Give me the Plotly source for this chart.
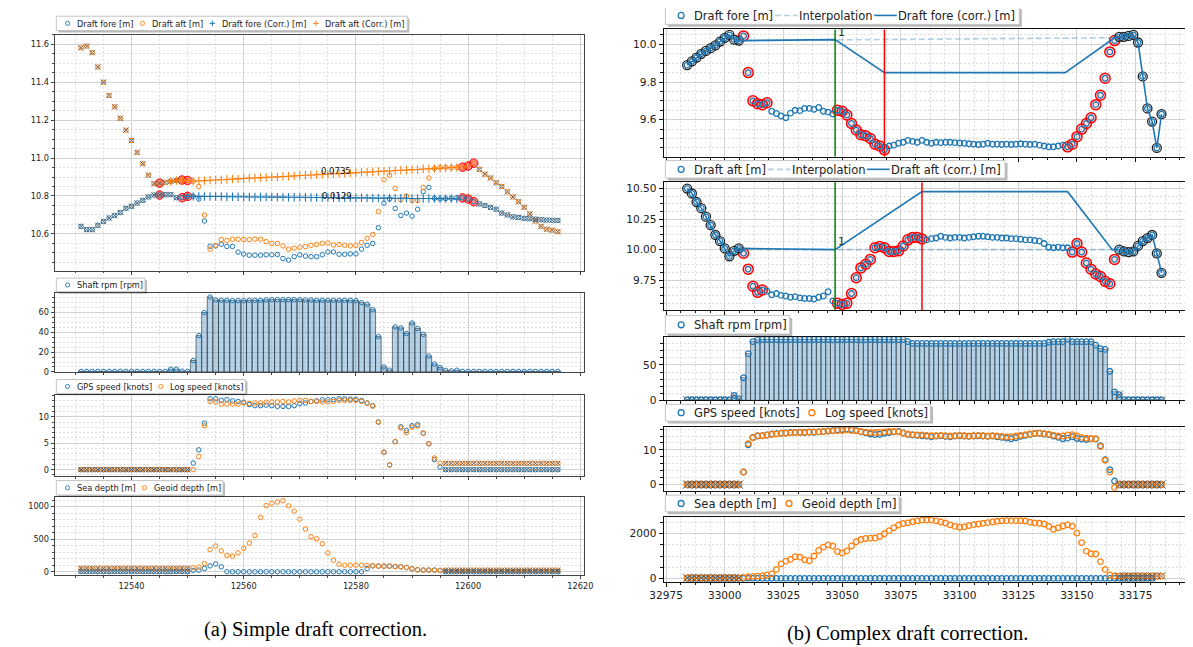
import plotly.graph_objects as go

W, H = 1193, 647
BLUE = '#1f77b4'
ORANGE = '#ff7f0e'

# ================= (a) Simple draft correction =================
L_X = list(range(12531, 12617))
L_FORE = [10.64, 10.623, 10.623, 10.645, 10.666, 10.684, 10.697, 10.713, 10.735, 10.746,
          10.763, 10.777, 10.795, 10.805, 10.805, 10.807, 10.807, 10.791, 10.791, 10.798,
          10.798, 10.784, 10.668, 10.535, 10.537, 10.546, 10.534, 10.534, 10.504, 10.494,
          10.488, 10.488, 10.488, 10.49, 10.49, 10.492, 10.47, 10.462, 10.48, 10.49,
          10.483, 10.48, 10.48, 10.49, 10.505, 10.505, 10.493, 10.493, 10.495, 10.495,
          10.52, 10.54, 10.55, 10.633, 10.762, 10.784, 10.734, 10.697, 10.71, 10.694,
          10.73, 10.823, 10.845, 10.788, 10.784, 10.786, 10.788, 10.79, 10.79, 10.784,
          10.77, 10.758, 10.75, 10.74, 10.73, 10.71, 10.70, 10.69, 10.687, 10.682,
          10.68, 10.678, 10.675, 10.673, 10.672, 10.671]
L_AFT = [11.581, 11.59, 11.556, 11.48, 11.40, 11.33, 11.27, 11.21, 11.147, 11.093,
         11.03, 10.97, 10.91, 10.865, 10.868, 10.872, 10.877, 10.882, 10.884, 10.882,
         10.878, 10.85, 10.70, 10.52, 10.54, 10.57, 10.565, 10.572, 10.572, 10.57,
         10.57, 10.573, 10.572, 10.56, 10.55, 10.55, 10.537, 10.52, 10.525, 10.53,
         10.533, 10.54, 10.544, 10.55, 10.552, 10.542, 10.544, 10.54, 10.537, 10.54,
         10.555, 10.577, 10.597, 10.718, 10.886, 10.91, 10.84, 10.78, 10.80, 10.776,
         10.776, 10.845, 10.895, 10.945, 10.95, 10.952, 10.95, 10.95, 10.952, 10.958,
         10.973, 10.94, 10.915, 10.895, 10.87, 10.85, 10.822, 10.795, 10.77, 10.74,
         10.706, 10.668, 10.64, 10.625, 10.62, 10.612]
# corrected values inside the correction window (samples 20..67)
L_CORR_FIRST, L_CORR_LAST = 20, 67
L_FORE_CORR_MID = [10.798, 10.798, 10.797, 10.797, 10.797, 10.797, 10.796, 10.796, 10.796, 10.796,
                   10.795, 10.795, 10.795, 10.795, 10.794, 10.794, 10.794, 10.793, 10.793, 10.793,
                   10.793, 10.792, 10.792, 10.792, 10.792, 10.791, 10.791, 10.791, 10.790, 10.790,
                   10.790, 10.790, 10.789, 10.789, 10.789, 10.789, 10.788, 10.788, 10.788, 10.787,
                   10.787, 10.787, 10.787, 10.786, 10.786, 10.786, 10.786, 10.785]
L_AFT_CORR_MID = [10.878, 10.880, 10.881, 10.883, 10.884, 10.886, 10.887, 10.889, 10.890, 10.892,
                  10.894, 10.895, 10.897, 10.898, 10.900, 10.901, 10.903, 10.904, 10.906, 10.908,
                  10.909, 10.911, 10.912, 10.914, 10.915, 10.917, 10.918, 10.920, 10.922, 10.923,
                  10.925, 10.926, 10.928, 10.929, 10.931, 10.932, 10.934, 10.936, 10.937, 10.939,
                  10.940, 10.942, 10.943, 10.945, 10.946, 10.948, 10.950, 10.951]
L_PLUS_FORE = list(range(19, 68))
L_PLUS_AFT = list(range(16, 68))
L_RED = [14, 18, 19, 68, 69, 70]
L_USED_TOP = list(range(0, 18)) + list(range(71, 86))
L_USED_LOW = list(range(0, 20)) + list(range(65, 86))
L_DIFF_TEXT = ['0.0735', '0.0129']
L_DIFF_POS = [(12576.4, 10.933), (12576.7, 10.80)]

L_RPM = [0.5, 0.5, 0.5, 0.5, 0.5, 0.5, 0.5, 0.5, 0.5, 0.5,
         0.5, 0.5, 0.5, 0.5, 0.5, 0.5, 2.7, 2.7, 0.8, 0.5,
         11.5, 36.7, 60, 75.8, 72.8, 72.5, 72.5, 72.1, 72.1, 72.1,
         72.5, 72.5, 72.5, 72.8, 73.1, 73.1, 73.1, 73.1, 73.1, 73.1,
         72.8, 72.8, 72.5, 72.5, 72.5, 72.5, 72.5, 72.5, 72.5, 72.1,
         70, 68.5, 63, 35.7, 5, 1.7, 45.5, 44.5, 38.8, 49.5,
         43.8, 38, 16, 8, 4.4, 1.5, 1, 1.7, 0.5, 0.5,
         0.5, 0.5, 0.5, 0.5, 0.5, 0.5, 0.5, 0.5, 0.5, 0.5,
         0.5, 0.5, 0.5, 0.5, 0.5, 0.5]
L_GPS = [0, 0, 0, 0, 0, 0, 0, 0, 0, 0,
         0, 0, 0, 0, 0, 0, 0, 0, 0, 0,
         1.25, 3.75, 8.8, 13.4, 13.4, 13.1, 13.25, 13.0, 12.9, 12.75,
         12.3, 12.1, 12.1, 12.2, 12.1, 11.95, 11.95, 11.95, 12.1, 12.5,
         12.6, 12.9, 13.0, 13.2, 13.2, 13.25, 13.4, 13.4, 13.35, 13.3,
         13.05, 12.6, 12.1, 9.0, 3.3, 0.9, 5.3, 8.1, 7.4, 8.3,
         8.5, 6.9, 4.9, 1.9, 0.5, 0, 0, 0, 0, 0,
         0, 0, 0, 0, 0, 0, 0, 0, 0, 0,
         0, 0, 0, 0, 0, 0]
L_LOG = [0, 0, 0, 0, 0, 0, 0, 0, 0, 0,
         0, 0, 0, 0, 0, 0, 0, 0, 0, 0,
         0, 2.5, 8.3, 12.9, 12.8, 12.4, 12.4, 12.4, 12.4, 12.6,
         12.5, 12.6, 12.6, 12.75, 12.8, 12.8, 12.9, 12.8, 13.0, 13.1,
         13.1, 12.9, 12.9, 12.8, 12.8, 12.9, 13.1, 13.1, 13.1, 13.1,
         12.9, 12.6, 12.0, 9.0, 3.3, 0.9, 5.3, 7.9, 7.0, 8.0,
         8.25, 6.9, 4.9, 2.2, 1.25, 1.2, 1.2, 1.2, 1.2, 1.2,
         1.2, 1.2, 1.2, 1.2, 1.2, 1.2, 1.2, 1.2, 1.2, 1.2,
         1.2, 1.2, 1.2, 1.2, 1.2, 1.2]
L_SEA = [5, 5, 5, 5, 5, 5, 5, 5, 5, 5,
         5, 5, 5, 5, 5, 5, 5, 5, 5, 5,
         20, 25, 50, 90, 120, 75, 0, 0, 0, 0,
         0, 0, 0, 0, 0, 0, 0, 0, 0, 0,
         0, 0, 0, 0, 0, 0, 0, 0, 0, 0,
         0, 50, 91, 86, 86, 86, 80, 76, 65, 45,
         30, 25, 25, 25, 20, 0, 0, 0, 0, 0,
         0, 0, 0, 0, 0, 0, 0, 0, 0, 0,
         0, 0, 0, 0, 0, 0]
L_GEOID = [55, 55, 55, 55, 55, 55, 55, 55, 55, 55,
           55, 55, 55, 55, 55, 55, 55, 55, 55, 55,
           60, 70, 125, 340, 395, 320, 250, 240, 290, 360,
           440, 555, 833, 1015, 1050, 1070, 1090, 1010, 930, 808,
           656, 540, 505, 430, 288, 177, 116, 100, 100, 100,
           100, 96, 91, 86, 86, 86, 80, 76, 65, 45,
           30, 25, 25, 25, 20, 25, 25, 25, 25, 25,
           25, 25, 25, 25, 25, 25, 25, 25, 25, 25,
           25, 25, 25, 25, 25, 25]

# ================= (b) Complex draft correction =================
R_X = list(range(32984, 33187, 2))
R_FORE = [9.89, 9.91, 9.93, 9.95, 9.965, 9.98, 9.995, 10.015, 10.035, 10.05,
          10.025, 10.02, 10.045, 9.85, 9.70, 9.685, 9.68, 9.69, 9.645, 9.633,
          9.62, 9.61, 9.635, 9.65, 9.648, 9.66, 9.66, 9.655, 9.665, 9.645,
          9.64, 9.63, 9.65, 9.645, 9.625, 9.58, 9.545, 9.52, 9.515, 9.50,
          9.47, 9.46, 9.44, 9.46, 9.465, 9.475, 9.48, 9.49, 9.485, 9.48,
          9.49, 9.48, 9.475, 9.48, 9.478, 9.48, 9.48, 9.478, 9.476, 9.475,
          9.472, 9.47, 9.468, 9.47, 9.475, 9.47, 9.47, 9.468, 9.47, 9.468,
          9.47, 9.472, 9.47, 9.468, 9.47, 9.465, 9.46, 9.456, 9.456, 9.46,
          9.465, 9.456, 9.47, 9.51, 9.55, 9.58, 9.61, 9.68, 9.73, 9.82,
          9.96, 10.02, 10.04, 10.04, 10.045, 10.05, 10.01, 9.83, 9.66, 9.59,
          9.45, 9.63]
R_AFT = [10.50, 10.46, 10.39, 10.34, 10.27, 10.20, 10.12, 10.07, 10.01, 9.945,
         9.99, 10.01, 9.97, 9.84, 9.70, 9.65, 9.67, 9.66, 9.63, 9.64,
         9.625, 9.62, 9.61, 9.615, 9.605, 9.60, 9.60, 9.595, 9.61, 9.62,
         9.655, 9.58, 9.56, 9.55, 9.56, 9.64, 9.77, 9.85, 9.88, 9.92,
         10.015, 10.025, 10.015, 9.985, 9.985, 9.99, 10.03, 10.08, 10.10, 10.10,
         10.087, 10.08, 10.09, 10.095, 10.11, 10.10, 10.095, 10.10, 10.10, 10.095,
         10.10, 10.105, 10.11, 10.11, 10.105, 10.10, 10.10, 10.095, 10.095, 10.09,
         10.09, 10.085, 10.08, 10.08, 10.075, 10.07, 10.05, 10.02, 10.015, 10.02,
         10.015, 10.015, 9.98, 10.05, 9.98, 9.89, 9.84, 9.80, 9.78, 9.74,
         9.72, 9.92, 10.0, 9.985, 9.98, 9.985, 10.03, 10.07, 10.095, 10.12,
         9.97, 9.81]
R_USED_END_A, R_USED_START_B = 33006, 33168
R_RED_FORE = list(range(12, 18)) + list(range(32, 43)) + list(range(81, 92))
R_RED_AFT = list(range(12, 17)) + list(range(32, 51)) + list(range(82, 92))
R_FORE_KNOT_X = [33047, 33068, 33145, 33166]
R_FORE_KNOT_Y = [10.025, 9.85, 9.85, 10.035]
R_AFT_KNOT_X = [33047, 33084, 33146, 33165]
R_AFT_KNOT_Y = [10.0, 10.475, 10.475, 10.0]
R_FORE_INTERP_X = [33006, 33166]
R_FORE_INTERP_Y = [10.02, 10.035]
R_AFT_INTERP_X = [33006, 33166]
R_AFT_INTERP_Y = [10.0, 10.0]
R_GREEN_X = 33047
R_RED_X_FORE = 33068
R_RED_X_AFT = 33084
R_LABEL_POS = [(33047.4, 10.061), (33047.4, 10.068)]

R_RPM = [0.5, 0.5, 0.5, 0.5, 0.5, 0.5, 0.5, 0.5, 0.5, 0.5,
         7, 2, 32, 66, 83, 85.5, 86, 86, 86, 86,
         86, 86, 86, 86, 86, 86, 86, 86, 86, 86,
         86, 86, 86, 86, 86, 86, 86, 86, 86, 86,
         86, 86, 86, 86, 86, 86, 86, 83, 80.5, 80.5,
         80.5, 80.5, 80.5, 80.5, 80.5, 80.5, 80.5, 80.5, 80.5, 80.5,
         80.5, 80.5, 80.5, 80.5, 80.5, 80.5, 80.5, 80.5, 80.5, 80.5,
         80.5, 80.5, 80.5, 80.5, 80.5, 80.5, 80.5, 82, 83, 83,
         83, 86.5, 83, 83, 83, 83, 83, 78, 73, 72,
         41, 12, 8, 0.5, 0.5, 0.5, 0.5, 0.5, 0.5, 0.5,
         0.5, 0.5]
R_GPS = [0, 0, 0, 0, 0, 0, 0, 0, 0, 0, 0, 0,
         3.6, 11.5, 13.6, 14.0, 14.1, 14.3, 14.6, 14.7, 14.8, 14.9,
         15.0, 15.0, 15.1, 15.0, 15.2, 15.1, 15.2, 15.3, 15.5, 15.6,
         15.8, 15.9, 16.0, 15.9, 15.6, 15.2, 14.9, 14.6, 14.4, 14.5,
         14.8, 15.0, 15.2, 15.3, 14.9, 14.5, 14.3, 14.2, 14.1, 14.0,
         13.8, 14.0, 14.1, 13.9, 13.8, 14.0, 14.1, 14.0, 13.9, 14.0,
         14.1, 14.0, 13.9, 14.0, 13.8, 13.6, 13.4, 13.2, 13.5, 13.9,
         14.2, 14.5, 14.7, 14.8, 14.6, 14.4, 14.0, 13.6, 13.2, 13.4,
         13.8, 13.3, 13.1, 13.0, 13.2, 13.1, 11.2, 7.2, 4.3, 1.0,
         0, 0, 0, 0, 0, 0, 0, 0, 0, 0]
R_LOG = [0, 0, 0, 0, 0, 0, 0, 0, 0, 0, 0, 0,
         3.6, 11.8, 13.5, 14.1, 14.1, 14.3, 14.5, 14.6, 14.8, 14.8,
         14.9, 15.0, 15.0, 15.1, 15.1, 15.2, 15.2, 15.3, 15.4, 15.5,
         15.6, 15.6, 15.7, 15.6, 15.5, 15.3, 15.1, 15.0, 15.0, 15.1,
         15.2, 15.3, 15.3, 15.2, 14.8, 14.5, 14.4, 14.3, 14.3, 14.2,
         14.1, 14.1, 14.2, 14.1, 14.0, 14.1, 14.2, 14.1, 14.0, 14.1,
         14.2, 14.1, 14.0, 14.1, 14.0, 13.9, 13.8, 13.8, 14.0, 14.2,
         14.4, 14.6, 14.8, 14.8, 14.7, 14.5, 14.2, 14.0, 14.0, 14.3,
         14.4, 14.0, 13.6, 13.4, 13.2, 13.2, 11.0, 7.0, 3.6, -0.9,
         0, 0, 0, 0, 0, 0, 0, 0, 0, 0]
R_SEA = [0, 0, 0, 0, 0, 0, 0, 0, 0, 0, 0, 0,
         0, 0, 0, 0, 0, 0, 0, 0, 0, 0, 0, 0, 0, 0, 0, 0, 0, 0,
         0, 0, 0, 0, 0, 0, 0, 0, 0, 0, 0, 0, 0, 0, 0, 0, 0, 0, 0, 0,
         0, 0, 0, 0, 0, 0, 0, 0, 0, 0, 0, 0, 0, 0, 0, 0, 0, 0, 0, 0,
         0, 0, 0, 0, 0, 0, 0, 0, 0, 0, 0, 0, 0, 0, 0, 0, 0, 0, 0, 0,
         0, 0, 0, 0, 0, 0, 0, 0, 0, 0]
R_GEOID = [20, 20, 20, 20, 20, 20, 20, 20, 20, 20, 20, 20,
           30, 70, 90, 100, 110, 150, 200, 400, 650, 770,
           850, 970, 950, 830, 790, 1000, 1250, 1400, 1500, 1450,
           1200, 1140, 1230, 1450, 1640, 1740, 1790, 1805, 1810, 1880,
           2000, 2140, 2270, 2390, 2460, 2490, 2540, 2580, 2610, 2620,
           2620, 2580, 2530, 2480, 2400, 2330, 2295, 2310, 2370, 2410,
           2440, 2470, 2500, 2530, 2560, 2580, 2590, 2590, 2590, 2585,
           2570, 2520, 2490, 2470, 2440, 2330, 2200, 2270, 2350, 2400,
           2340, 2030, 1600, 1220, 1100, 1090, 750, 400, 150, 100,
           100, 100, 100, 100, 100, 100, 100, 100, 100, 100]

CAPTIONS = ['(a) Simple draft correction.', '(b) Complex draft correction.']


def sel(arr, idx):
    return [arr[i] for i in idx if i < len(arr)]


R_USED = [k for k in range(len(R_X)) if R_X[k] <= R_USED_END_A or R_X[k] >= R_USED_START_B]
R_USED_A = [k for k in range(len(R_X)) if R_X[k] <= R_USED_END_A]
R_USED_B = [k for k in range(len(R_X)) if R_X[k] >= R_USED_START_B]

L_FORE_CORR = L_FORE[:L_CORR_FIRST] + L_FORE_CORR_MID + L_FORE[L_CORR_LAST + 1:]
L_AFT_CORR = L_AFT[:L_CORR_FIRST] + L_AFT_CORR_MID + L_AFT[L_CORR_LAST + 1:]

fig = go.Figure()

LS, RS = 4.5, 5.6  # marker sizes


def circ(x, y, color, xa, ya, size, lw=1.0):
    fig.add_trace(go.Scatter(x=x, y=y, mode='markers', xaxis=xa, yaxis=ya,
                             marker=dict(symbol='circle-open', size=size, color=color,
                                         line=dict(color=color, width=lw))))


def grayx(x, y, xa, ya, size, color='rgba(80,80,80,0.85)', lw=1.0):
    fig.add_trace(go.Scatter(x=x, y=y, mode='markers', xaxis=xa, yaxis=ya, hoverinfo='skip',
                             marker=dict(symbol='x-thin', size=size, color=color,
                                         line=dict(color=color, width=lw))))


def redc(x, y, xa, ya, size, fill, lw):
    fig.add_trace(go.Scatter(x=x, y=y, mode='markers', xaxis=xa, yaxis=ya, hoverinfo='skip',
                             marker=dict(symbol='circle', size=size, color=fill,
                                         line=dict(color='red', width=lw))))


# ---- left top: drafts ----
redc(sel(L_X, L_RED), sel(L_FORE, L_RED), 'x', 'y', 8.5, 'rgba(255,0,0,0.45)', 1)
redc(sel(L_X, L_RED), sel(L_AFT, L_RED), 'x', 'y', 8.5, 'rgba(255,0,0,0.45)', 1)
circ(L_X, L_FORE, BLUE, 'x', 'y', LS)
circ(L_X, L_AFT, ORANGE, 'x', 'y', LS)
grayx(sel(L_X, L_USED_TOP), sel(L_FORE, L_USED_TOP), 'x', 'y', 5.5)
grayx(sel(L_X, L_USED_TOP), sel(L_AFT, L_USED_TOP), 'x', 'y', 5.5)
for arr, idx, col in [(L_FORE_CORR, L_PLUS_FORE, BLUE), (L_AFT_CORR, L_PLUS_AFT, ORANGE)]:
    fig.add_trace(go.Scatter(x=sel(L_X, idx), y=sel(arr, idx), mode='markers', xaxis='x', yaxis='y',
                             marker=dict(symbol='cross-thin', size=6, color=col,
                                         line=dict(color=col, width=1.1))))

# ---- left shaft rpm ----
fig.add_trace(go.Bar(x=L_X, y=L_RPM, width=1, xaxis='x2', yaxis='y2',
                     marker=dict(color='rgba(31,119,180,0.32)',
                                 line=dict(color='rgba(50,60,70,0.85)', width=0.8))))
circ(L_X, L_RPM, BLUE, 'x2', 'y2', LS)

# ---- left speeds ----
circ(L_X, L_GPS, BLUE, 'x3', 'y3', LS)
circ(L_X, L_LOG, ORANGE, 'x3', 'y3', LS)
grayx(sel(L_X, L_USED_LOW), sel(L_GPS, L_USED_LOW), 'x3', 'y3', 5)
grayx(sel(L_X, L_USED_LOW), sel(L_LOG, L_USED_LOW), 'x3', 'y3', 5)

# ---- left depths ----
circ(L_X, L_SEA, BLUE, 'x4', 'y4', LS)
circ(L_X, L_GEOID, ORANGE, 'x4', 'y4', LS)
grayx(sel(L_X, L_USED_LOW), sel(L_SEA, L_USED_LOW), 'x4', 'y4', 5)
grayx(sel(L_X, L_USED_LOW), sel(L_GEOID, L_USED_LOW), 'x4', 'y4', 5)

# ---- right drafts ----
for (arr, red_idx, kx, ky, ix, iy, xa, ya) in [
        (R_FORE, R_RED_FORE, R_FORE_KNOT_X, R_FORE_KNOT_Y, R_FORE_INTERP_X, R_FORE_INTERP_Y, 'x5', 'y5'),
        (R_AFT, R_RED_AFT, R_AFT_KNOT_X, R_AFT_KNOT_Y, R_AFT_INTERP_X, R_AFT_INTERP_Y, 'x6', 'y6')]:
    redc(sel(R_X, red_idx), sel(arr, red_idx), xa, ya, 10, 'rgba(255,0,0,0.12)', 1.5)
    fig.add_trace(go.Scatter(x=sel(R_X, R_USED), y=sel(arr, R_USED), mode='markers',
                             xaxis=xa, yaxis=ya, hoverinfo='skip',
                             marker=dict(symbol='circle-open', size=9, color='#222',
                                         line=dict(color='#222', width=1.3))))
    circ(R_X, arr, BLUE, xa, ya, RS, 1.3)
    fig.add_trace(go.Scatter(x=ix, y=iy, mode='lines', xaxis=xa, yaxis=ya,
                             line=dict(color='rgba(31,119,180,0.35)', width=1.6, dash='6px,3px')))
    cx = sel(R_X, R_USED_A) + kx + sel(R_X, R_USED_B)
    cy = sel(arr, R_USED_A) + ky + sel(arr, R_USED_B)
    fig.add_trace(go.Scatter(x=cx, y=cy, mode='lines', xaxis=xa, yaxis=ya,
                             line=dict(color=BLUE, width=1.6)))

# ---- right rpm ----
fig.add_trace(go.Bar(x=R_X, y=R_RPM, width=2, xaxis='x7', yaxis='y7',
                     marker=dict(color='rgba(31,119,180,0.32)',
                                 line=dict(color='rgba(50,60,70,0.8)', width=0.8))))
grayx(sel(R_X, R_USED), sel(R_RPM, R_USED), 'x7', 'y7', 8, 'rgba(80,80,80,0.7)')
circ(R_X, R_RPM, BLUE, 'x7', 'y7', RS, 1.3)

# ---- right speeds ----
circ(R_X, R_GPS, BLUE, 'x8', 'y8', RS, 1.3)
circ(R_X, R_LOG, ORANGE, 'x8', 'y8', RS, 1.3)
grayx(sel(R_X, R_USED), sel(R_GPS, R_USED), 'x8', 'y8', 8, 'rgba(80,80,80,0.7)')
grayx(sel(R_X, R_USED), sel(R_LOG, R_USED), 'x8', 'y8', 8, 'rgba(80,80,80,0.7)')

# ---- right depths ----
circ(R_X, R_SEA, BLUE, 'x9', 'y9', RS, 1.3)
circ(R_X, R_GEOID, ORANGE, 'x9', 'y9', RS, 1.3)
grayx(sel(R_X, R_USED), sel(R_SEA, R_USED), 'x9', 'y9', 8, 'rgba(80,80,80,0.7)')
grayx(sel(R_X, R_USED), sel(R_GEOID, R_USED), 'x9', 'y9', 8, 'rgba(80,80,80,0.7)')

# ================= layout =================
def px_x(a, b):
    return [a / W, b / W]


def px_y(top, bottom):
    return [1 - bottom / H, 1 - top / H]


def axis(dom, rng, dtick, minor, labels, fs, anchor, lc, tl, fmt='d'):
    return dict(domain=dom, range=rng, dtick=dtick, tick0=0, showticklabels=labels,
                tickformat=fmt, ticks='outside', ticklen=tl, tickwidth=1, tickcolor=lc,
                showline=True, mirror=True, linecolor=lc, linewidth=1,
                showgrid=True, gridcolor='#d2d2d2', gridwidth=1, zeroline=False,
                minor=dict(dtick=minor, tick0=0, ticks='outside', ticklen=tl * 0.55,
                           tickcolor=lc, tickwidth=0.8, showgrid=True,
                           gridcolor='#dedede', griddash='2px,2px', gridwidth=0.7),
                anchor=anchor, tickfont=dict(family='DejaVu Sans', size=fs, color='#222'),
                fixedrange=True)


LX = px_x(33.3, 573.3)
RX = px_x(654.3, 1187.3)
LXR = [12526.3, 12620.7]
RXR = [32974.0, 33196.6]
LC_L, LC_R = '#444', '#111'
FL, FR = 8.2, 10.6

fig.update_layout(
    width=W, height=H, margin=dict(l=0, r=0, t=0, b=0), autosize=False, showlegend=False,
    paper_bgcolor='white', plot_bgcolor='white', barmode='overlay',
    xaxis=axis(LX, LXR, 20, 5, False, FL, 'y', LC_L, 3),
    yaxis=axis(px_y(27, 265), [10.407, 11.65], 0.2, 0.05, True, FL, 'x', LC_L, 3, '.1f'),
    xaxis2=axis(LX, LXR, 20, 5, False, FL, 'y2', LC_L, 3),
    yaxis2=axis(px_y(288, 367.3), [0, 79.5], 20, 5, True, FL, 'x2', LC_L, 3),
    xaxis3=axis(LX, LXR, 20, 5, False, FL, 'y3', LC_L, 3),
    yaxis3=axis(px_y(390.7, 472.5), [-1.22, 14.1], 5, 1, True, FL, 'x3', LC_L, 3),
    xaxis4=axis(LX, LXR, 20, 5, True, FL, 'y4', LC_L, 3),
    yaxis4=axis(px_y(493.3, 572.3), [-50, 1151], 500, 100, True, FL, 'x4', LC_L, 3),
    xaxis5=axis(RX, RXR, 25, 6.25, False, FR, 'y5', LC_R, 4),
    yaxis5=axis(px_y(21.7, 150), [9.404, 10.079], 0.2, 0.05, True, FR, 'x5', LC_R, 4, '.1f'),
    xaxis6=axis(RX, RXR, 25, 6.25, False, FR, 'y6', LC_R, 4),
    yaxis6=axis(px_y(176, 305), [9.504, 10.551], 0.25, 0.0625, True, FR, 'x6', LC_R, 4, '.2f'),
    xaxis7=axis(RX, RXR, 25, 6.25, False, FR, 'y7', LC_R, 4),
    yaxis7=axis(px_y(332.3, 396), [0, 89.2], 50, 10, True, FR, 'x7', LC_R, 4),
    xaxis8=axis(RX, RXR, 25, 6.25, False, FR, 'y8', LC_R, 4),
    yaxis8=axis(px_y(423.3, 487.3), [-1.8, 16.5], 10, 2, True, FR, 'x8', LC_R, 4),
    xaxis9=axis(RX, RXR, 25, 6.25, True, FR, 'y9', LC_R, 4),
    yaxis9=axis(px_y(513.3, 579), [-148, 2773], 2000, 500, True, FR, 'x9', LC_R, 4),
)

# ---------- matplotlib-style legends drawn as shapes + annotations ----------
CW = {'D': 1577, 'r': 842, 'a': 1255, 'f': 721, 't': 803, ' ': 651, 'o': 1253, 'e': 1260,
      '[': 799, ']': 799, 'm': 1995, '(': 799, ')': 799, 'C': 1430, '.': 651, 'S': 1300,
      'h': 1298, 'p': 1300, 'G': 1589, 'P': 1235, 's': 1067, 'd': 1300, 'k': 1186,
      'n': 1298, 'L': 1141, 'g': 1300, 'i': 569, 'l': 569, 'I': 604, 'c': 1126}


def tw(s, fs):
    return sum(CW.get(c, 1250) for c in s) / 2048.0 * fs


LEGENDS = [
    dict(left=35, top=8.3, h=14.4, fs=8.2, items=[('o', BLUE, 'Draft fore [m]'), ('o', ORANGE, 'Draft aft [m]'),
                                                   ('+', BLUE, 'Draft fore (Corr.) [m]'), ('+', ORANGE, 'Draft aft (Corr.) [m]')]),
    dict(left=35, top=272.7, h=13.6, fs=8.2, items=[('o', BLUE, 'Shaft rpm [rpm]')]),
    dict(left=35, top=375, h=14, fs=8.2, items=[('o', BLUE, 'GPS speed [knots]'), ('o', ORANGE, 'Log speed [knots]')]),
    dict(left=35, top=477, h=14.6, fs=8.2, items=[('o', BLUE, 'Sea depth [m]'), ('o', ORANGE, 'Geoid depth [m]')]),
    dict(left=656, top=-1.5, h=18, fs=11.5, items=[('o', BLUE, 'Draft fore [m]'), ('--', BLUE, 'Interpolation'),
                                                    ('-', BLUE, 'Draft fore (corr.) [m]')]),
    dict(left=656, top=154, h=17.7, fs=11.5, items=[('o', BLUE, 'Draft aft [m]'), ('--', BLUE, 'Interpolation'),
                                                     ('-', BLUE, 'Draft aft (corr.) [m]')]),
    dict(left=656, top=310.5, h=18.5, fs=11.5, items=[('o', BLUE, 'Shaft rpm [rpm]')]),
    dict(left=656, top=400, h=17, fs=11.5, items=[('o', BLUE, 'GPS speed [knots]'), ('o', ORANGE, 'Log speed [knots]')]),
    dict(left=656, top=491.7, h=16.8, fs=11.5, items=[('o', BLUE, 'Sea depth [m]'), ('o', ORANGE, 'Geoid depth [m]')]),
]


def PX(v):
    return v / W


def PY(v):
    return 1 - v / H


shapes = []
ann = []
for lg in LEGENDS:
    fs = lg['fs']
    top, h, left = lg['top'], lg['h'], lg['left']
    cy = top + h / 2.0
    big = fs > 10
    x = left + 0.4 * fs
    hl = 2.0 * fs
    item_geo = []
    for kind, col, label in lg['items']:
        item_geo.append((kind, col, label, x))
        x = x + hl + 0.15 * fs + tw(label, fs) + 0.25 * fs
    right = x - 0.25 * fs + 0.4 * fs
    off = 2.5 if big else 2.0
    shapes.append(dict(type='rect', xref='paper', yref='paper', layer='above',
                       x0=PX(left + off), x1=PX(right + off), y0=PY(top + h + off), y1=PY(top + off),
                       fillcolor='rgba(0,0,0,0.28)', line=dict(width=0)))
    shapes.append(dict(type='rect', xref='paper', yref='paper', layer='above',
                       x0=PX(left), x1=PX(right), y0=PY(top + h), y1=PY(top),
                       fillcolor='white', line=dict(color='#c4c4c4', width=1)))
    for kind, col, label, hx in item_geo:
        cxp = hx + hl / 2.0
        if kind == 'o':
            r = 3.0 if big else 2.1
            shapes.append(dict(type='circle', xref='paper', yref='paper', layer='above',
                               x0=PX(cxp - r), x1=PX(cxp + r), y0=PY(cy + r), y1=PY(cy - r),
                               line=dict(color=col, width=1.3 if big else 0.9)))
        elif kind == '+':
            a = 2.8
            shapes.append(dict(type='line', xref='paper', yref='paper', layer='above',
                               x0=PX(cxp - a), x1=PX(cxp + a), y0=PY(cy), y1=PY(cy),
                               line=dict(color=col, width=1)))
            shapes.append(dict(type='line', xref='paper', yref='paper', layer='above',
                               x0=PX(cxp), x1=PX(cxp), y0=PY(cy - a), y1=PY(cy + a),
                               line=dict(color=col, width=1)))
        elif kind == '--':
            shapes.append(dict(type='line', xref='paper', yref='paper', layer='above',
                               x0=PX(hx), x1=PX(hx + hl), y0=PY(cy), y1=PY(cy),
                               line=dict(color='rgba(31,119,180,0.35)', width=1.6, dash='6px,3px')))
        else:
            shapes.append(dict(type='line', xref='paper', yref='paper', layer='above',
                               x0=PX(hx), x1=PX(hx + hl), y0=PY(cy), y1=PY(cy),
                               line=dict(color=col, width=1.6)))
        ann.append(dict(text=label, x=PX(hx + hl + 0.15 * fs), y=PY(cy + 0.5), xref='paper', yref='paper',
                        xanchor='left', yanchor='middle', showarrow=False, borderpad=0, borderwidth=0,
                        font=dict(family='DejaVu Sans', size=fs, color='#222')))

# vertical marker lines
for xa, ya, rx in [('x5', 'y5', R_RED_X_FORE), ('x6', 'y6', R_RED_X_AFT)]:
    shapes.append(dict(type='line', xref=xa, yref=ya + ' domain', x0=R_GREEN_X, x1=R_GREEN_X,
                       y0=0, y1=1, line=dict(color='green', width=1.5)))
    shapes.append(dict(type='line', xref=xa, yref=ya + ' domain', x0=rx, x1=rx,
                       y0=0, y1=1, line=dict(color='red', width=1.5)))

for txt, (ax, ay) in zip(L_DIFF_TEXT, L_DIFF_POS):
    ann.append(dict(text=txt, x=ax, y=ay, xref='x', yref='y', showarrow=False,
                    font=dict(family='DejaVu Sans', size=8.5, color='#111')))
for (ax, ay), xa, ya in zip(R_LABEL_POS, ['x5', 'x6'], ['y5', 'y6']):
    ann.append(dict(text='1', x=ax, y=ay, xref=xa, yref=ya, showarrow=False, xanchor='left',
                    font=dict(family='DejaVu Sans', size=11, color='#333')))
ann.append(dict(text=CAPTIONS[0], x=299 / W, y=1 - 627 / H, xref='paper', yref='paper',
                xanchor='center', yanchor='middle', showarrow=False,
                font=dict(family='Liberation Serif', size=20.5, color='black')))
ann.append(dict(text=CAPTIONS[1], x=903 / W, y=1 - 631 / H, xref='paper', yref='paper',
                xanchor='center', yanchor='middle', showarrow=False,
                font=dict(family='Liberation Serif', size=20.5, color='black')))

fig.update_layout(shapes=shapes, annotations=ann)
fig.write_html('out.html')
